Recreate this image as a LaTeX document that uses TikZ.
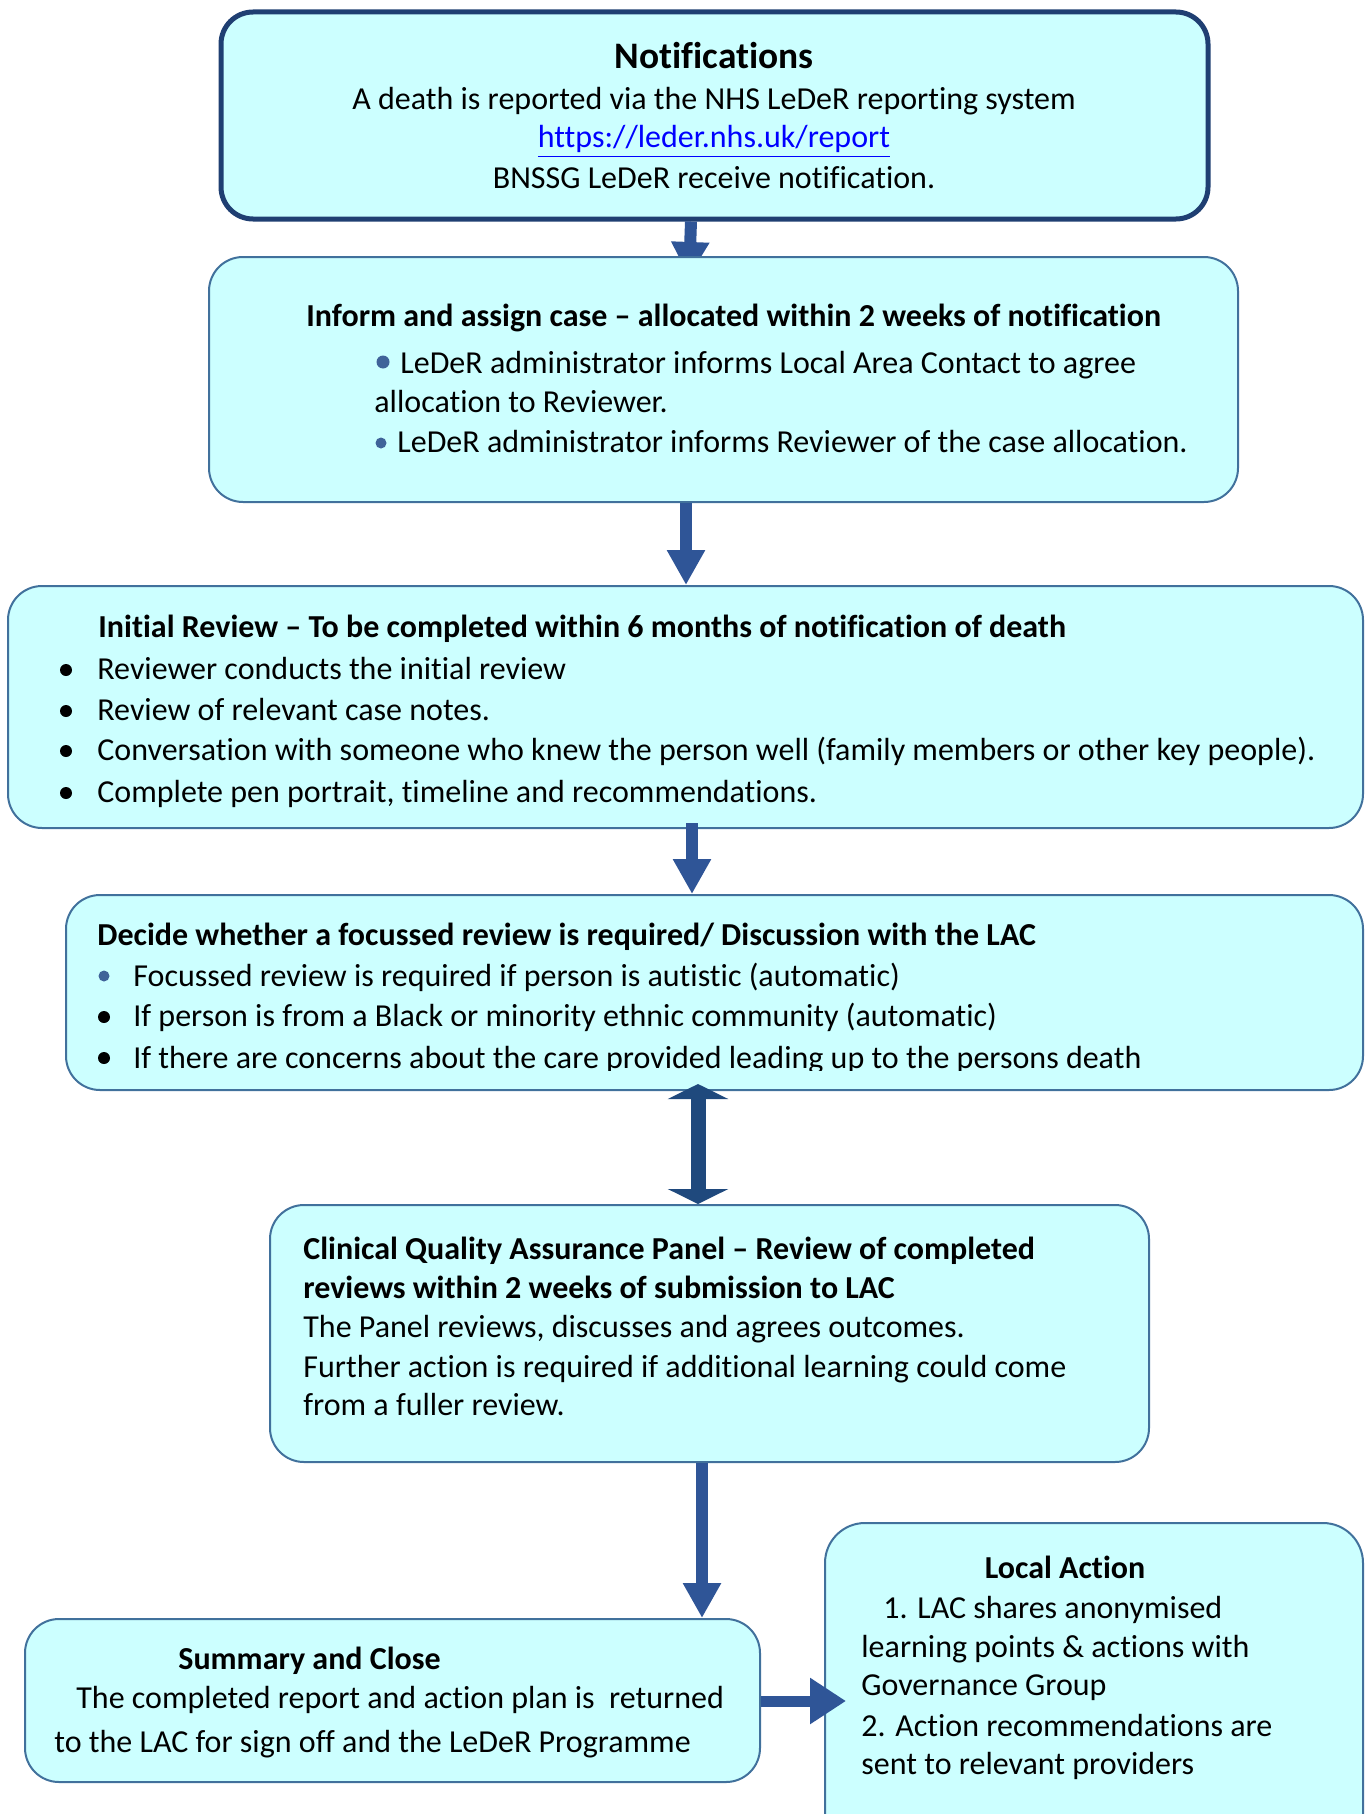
\documentclass[tikz,border=0pt]{standalone}
\usepackage{fontspec}
\setmainfont{Carlito}[Ligatures=NoCommon]
\usetikzlibrary{fit,arrows.meta}
\definecolor{fillc}{HTML}{CCFFFF}
\definecolor{edgec}{HTML}{41719C}
\definecolor{navyc}{HTML}{1F3F72}
\definecolor{arrowc}{HTML}{2F5597}
\definecolor{arrowd}{HTML}{1F497D}
\definecolor{bulletb}{HTML}{3F6399}
\definecolor{linkc}{HTML}{0000FF}
\begin{document}
\begin{tikzpicture}[x=0.5pt,y=-0.5pt,
  box/.style={draw=edgec, line width=1pt, fill=fillc, rounded corners=17pt, inner sep=0pt},
  topbox/.style={box, draw=navyc, line width=2.5pt, rounded corners=16pt},
  txt/.style={inner sep=0pt, anchor=base west, font=\fontsize{16}{19}\selectfont},
  btxt/.style={txt, font=\fontsize{16}{19}\selectfont\bfseries},
  ctxt/.style={txt, anchor=base},
  ttl/.style={inner sep=0pt, anchor=base, font=\fontsize{18.7}{22}\selectfont\bfseries},
  bul/.style={circle, fill=black, inner sep=0pt, minimum size=6pt},
  bulb/.style={circle, fill=bulletb, inner sep=0pt, minimum size=5.5pt},
  blk/.style={draw=arrowc, line width=6pt, -{Triangle[width=18pt,length=17.5pt]}},
  dbl/.style={draw=arrowd, line width=7.5pt, {Triangle[width=30pt,length=7.5pt]}-{Triangle[width=30pt,length=7.5pt]}}
]
\useasboundingbox (0,0) rectangle (1368,1814);
\clip (0,0) rectangle (1368,1814);

% Box 1
\node[topbox, fit={(221,12) (1208,219)}] (b1) {};
\node[ttl] (t1) at (714,69) {Notifications};
\node[ctxt] (t1a) at (714,110) {A death is reported via the NHS LeDeR reporting system};
\node[ctxt, text=linkc] (t1b) at (714,148) {\underline{https://leder.nhs.uk/report}};
\node[ctxt] (t1c) at (714,188) {BNSSG LeDeR receive notification.};

% Arrow 1 (head hidden under box 2)
\coordinate (a1e) at (689,277);
\draw[blk] (b1.south -| 691,0) -- (a1e);

% Box 2
\node[box, fit={(209,257) (1238,502)}] (b2) {};
\node[btxt] (t2) at (306,326) {Inform and assign case – allocated within 2 weeks of notification};
\node[bulb, minimum size=6.5pt] (d2a) at (383,362) {};
\node[txt] (t2a) at (400,373) {LeDeR administrator informs Local Area Contact to agree};
\node[txt] (t2b) at (374,412) {allocation to Reviewer.};
\node[bulb] (d2b) at (381,443) {};
\node[txt] (t2c) at (397,452) {LeDeR administrator informs Reviewer of the case allocation.};

% Box 3
\node[box, fit={(8,586) (1363,828)}] (b3) {};
\node[btxt] (t3) at (98,637) {Initial Review – To be completed within 6 months of notification of death};
\node[bul] (d3a) at (66,670) {};
\node[txt] (t3a) at (97,679) {Reviewer conducts the initial review};
\node[bul] (d3b) at (66,711) {};
\node[txt] (t3b) at (97,720) {Review of relevant case notes.};
\node[bul] (d3c) at (66,751) {};
\node[txt] (t3c) at (97,760) {Conversation with someone who knew the person well (family members or other key people).};
\node[bul] (d3d) at (66,793) {};
\node[txt] (t3d) at (97,802) {Complete pen portrait, timeline and recommendations.};

% Arrow 2
\draw[blk] (b2.south -| 686,0) -- (b3.north -| 686,0);

% Box 4
\node[box, fit={(66,895) (1363,1090)}] (b4) {};
\node[btxt] (t4) at (97,945) {Decide whether a focussed review is required/ Discussion with the LAC};
\node[bulb] (d4a) at (104,976) {};
\node[txt] (t4a) at (133,986) {Focussed review is required if person is autistic (automatic)};
\node[bul] (d4b) at (104,1017) {};
\node[txt] (t4b) at (133,1026) {If person is from a Black or minority ethnic community (automatic)};
\node[bul] (d4c) at (104,1058) {};
\begin{scope}
\clip (0,1000) rectangle (1368,1070);
\node[txt] (t4c) at (133,1068) {If there are concerns about the care provided leading up to the persons death};
\end{scope}

% Arrow 3
\coordinate (a3s) at (692,823);
\draw[blk] (a3s) -- (b4.north -| 692,0);

% Box 5
\node[box, fit={(270,1205) (1149,1462)}] (b5) {};
\node[btxt] (t5a) at (303,1259) {Clinical Quality Assurance Panel – Review of completed};
\node[btxt] (t5b) at (303,1298) {reviews within 2 weeks of submission to LAC};
\node[txt] (t5c) at (303,1337) {The Panel reviews, discusses and agrees outcomes.};
\node[txt] (t5d) at (303,1377) {Further action is required if additional learning could come};
\node[txt] (t5e) at (303,1415) {from a fuller review.};

% Double arrow
\coordinate (a4t) at (698,1084);
\draw[dbl] (a4t) -- (b5.north -| 698,0);

% Box 6
\node[box, fit={(25,1619) (760,1782)}] (b6) {};
\node[btxt] (t6) at (178,1669) {Summary and Close};
\node[txt] (t6a) at (76,1708) {The completed report and action plan is\ \ returned};
\node[txt] (t6b) at (54,1752) {to the LAC for sign off and the LeDeR Programme};

% Arrow 5
\draw[blk] (b5.south -| 702,0) -- (b6.north -| 702,0);

% Box 7
\node[box, rounded corners=20pt, fit={(825,1523) (1363,1860)}] (b7) {};
\node[ctxt, font=\fontsize{16}{19}\selectfont\bfseries] (t7) at (1065,1578) {Local Action};
\node[txt] (t7a) at (883,1618) {1. LAC shares anonymised};
\node[txt] (t7b) at (861,1657) {learning points \& actions with};
\node[txt] (t7c) at (861,1695) {Governance Group};
\node[txt] (t7d) at (861,1736) {2. Action recommendations are};
\node[txt] (t7e) at (861,1774) {sent to relevant providers};

% Right arrow
\coordinate (a6e) at (846,1701);
\draw[draw=arrowc, line width=5.5pt, -{Triangle[width=22pt,length=18pt]}] (b6.east |- 0,1701) -- (a6e);
\end{tikzpicture}
\end{document}
